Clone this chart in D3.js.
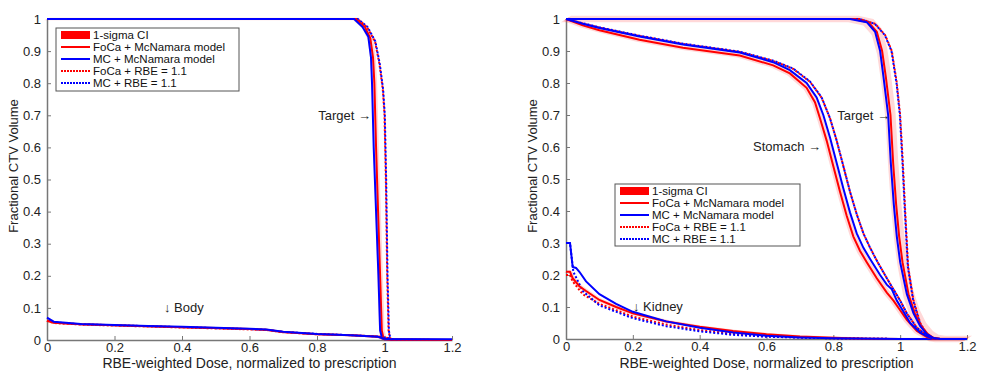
<!DOCTYPE html>
<html>
<head>
<meta charset="utf-8">
<script src="https://cdn.jsdelivr.net/npm/d3@7"></script>
<style>
  body { margin: 0; background: #fff; }
  svg text { font-family: "Liberation Sans", Arial, sans-serif; }
</style>
</head>
<body>
<div id="chart"></div>
<script>
// tick values and legend labels
const xTicks = [0, 0.2, 0.4, 0.6, 0.8, 1, 1.2];
const yTicks = [0, 0.1, 0.2, 0.3, 0.4, 0.5, 0.6, 0.7, 0.8, 0.9, 1];
const legendLabels = ['1-sigma CI', 'FoCa + McNamara model', 'MC + McNamara model', 'FoCa + RBE = 1.1', 'MC + RBE = 1.1'];

// left panel: target
const leftTargetFoca = [[0,1],[0.915,1],[0.942,0.975],[0.958,0.94],[0.966,0.88],[0.97,0.8],[0.975,0.6],[0.981,0.4],[0.987,0.2],[0.992,0.03],[0.997,0.005],[1.0,0.002],[1.2,0]];
const leftTargetMc = [[0,1],[0.91,1],[0.935,0.975],[0.952,0.945],[0.96,0.88],[0.963,0.8],[0.968,0.6],[0.975,0.4],[0.982,0.2],[0.987,0.03],[0.993,0.005],[1.0,0.002],[1.2,0]];
const leftTargetFocaRbe = [[0,1],[0.92,1],[0.948,0.975],[0.972,0.93],[0.985,0.86],[0.995,0.78],[1.0,0.7],[1.004,0.5],[1.008,0.2],[1.012,0.03],[1.016,0.005],[1.02,0],[1.2,0]];
const leftTargetMcRbe = [[0,1],[0.921,1],[0.95,0.975],[0.973,0.93],[0.986,0.86],[0.996,0.78],[1.001,0.7],[1.005,0.5],[1.009,0.2],[1.013,0.03],[1.017,0.005],[1.021,0],[1.2,0]];

// left panel: body
const leftBodyFoca = [[0,0.06],[0.02,0.054],[0.1,0.049],[0.2,0.046],[0.3,0.043],[0.4,0.04],[0.5,0.037],[0.6,0.034],[0.65,0.032],[0.7,0.025],[0.8,0.018],[0.9,0.015],[0.98,0.01],[1.0,0.004],[1.02,0.001],[1.2,0]];
const leftBodyMc = [[0,0.07],[0.02,0.057],[0.1,0.05],[0.2,0.047],[0.3,0.044],[0.4,0.041],[0.5,0.038],[0.6,0.035],[0.65,0.033],[0.7,0.026],[0.8,0.019],[0.9,0.015],[0.98,0.01],[1.0,0.004],[1.02,0.002],[1.2,0.002]];
const leftBodyFocaRbe = [[0,0.06],[0.02,0.053],[0.1,0.048],[0.2,0.045],[0.3,0.042],[0.4,0.039],[0.5,0.036],[0.6,0.033],[0.65,0.031],[0.7,0.024],[0.8,0.018],[0.9,0.015],[0.98,0.011],[1.01,0.006],[1.03,0.001],[1.2,0]];
const leftBodyMcRbe = [[0,0.065],[0.02,0.055],[0.1,0.049],[0.2,0.046],[0.3,0.043],[0.4,0.04],[0.5,0.037],[0.6,0.034],[0.65,0.032],[0.7,0.025],[0.8,0.019],[0.9,0.015],[0.98,0.011],[1.01,0.006],[1.03,0.001],[1.2,0]];

// right panel: target
const rightTargetFoca = [[0,1],[0.86,1],[0.905,0.99],[0.93,0.96],[0.946,0.9],[0.957,0.82],[0.971,0.7],[0.979,0.55],[0.988,0.42],[0.997,0.32],[1.007,0.24],[1.025,0.14],[1.044,0.08],[1.063,0.04],[1.083,0.015],[1.1,0.003],[1.12,0],[1.2,0]];
const rightTargetMc = [[0,1],[0.85,1],[0.9,0.99],[0.925,0.96],[0.94,0.9],[0.95,0.82],[0.964,0.7],[0.972,0.55],[0.981,0.42],[0.99,0.32],[1.0,0.24],[1.02,0.14],[1.04,0.08],[1.06,0.04],[1.08,0.015],[1.1,0.003],[1.12,0],[1.2,0]];
const rightTargetFocaRbe = [[0,1],[0.88,1],[0.925,0.985],[0.955,0.95],[0.975,0.9],[0.99,0.8],[1.0,0.7],[1.008,0.55],[1.015,0.4],[1.024,0.225],[1.04,0.12],[1.06,0.05],[1.08,0.015],[1.1,0.003],[1.12,0],[1.2,0]];
const rightTargetMcRbe = [[0,1],[0.879,1],[0.924,0.985],[0.954,0.95],[0.974,0.9],[0.989,0.8],[0.999,0.7],[1.007,0.55],[1.014,0.4],[1.023,0.225],[1.039,0.12],[1.059,0.05],[1.079,0.015],[1.1,0.003],[1.12,0],[1.2,0]];

// right panel: stomach
const rightStomachFoca = [[0,1],[0.05,0.98],[0.1,0.965],[0.22,0.935],[0.35,0.91],[0.52,0.886],[0.62,0.855],[0.67,0.83],[0.72,0.785],[0.745,0.74],[0.76,0.69],[0.78,0.62],[0.8,0.54],[0.82,0.46],[0.84,0.385],[0.86,0.32],[0.88,0.275],[0.9,0.24],[0.93,0.19],[0.96,0.145],[0.98,0.12],[1.0,0.09],[1.02,0.06],[1.05,0.025],[1.08,0.006],[1.1,0],[1.2,0]];
const rightStomachMc = [[0,1],[0.05,0.985],[0.1,0.972],[0.22,0.945],[0.35,0.92],[0.52,0.895],[0.62,0.865],[0.67,0.84],[0.72,0.8],[0.75,0.755],[0.77,0.7],[0.79,0.63],[0.81,0.55],[0.83,0.47],[0.85,0.395],[0.87,0.33],[0.89,0.285],[0.91,0.25],[0.94,0.2],[0.96,0.17],[0.975,0.155],[0.99,0.12],[1.01,0.085],[1.03,0.05],[1.06,0.02],[1.09,0.004],[1.11,0],[1.2,0]];
const rightStomachFocaRbe = [[0,1],[0.05,0.986],[0.1,0.973],[0.22,0.947],[0.35,0.922],[0.52,0.897],[0.62,0.869],[0.68,0.844],[0.73,0.804],[0.765,0.754],[0.79,0.69],[0.81,0.62],[0.83,0.54],[0.85,0.46],[0.87,0.39],[0.89,0.33],[0.91,0.285],[0.93,0.245],[0.96,0.19],[0.98,0.155],[1.0,0.12],[1.02,0.08],[1.05,0.035],[1.08,0.01],[1.1,0.002],[1.12,0],[1.2,0]];
const rightStomachMcRbe = [[0,1],[0.05,0.987],[0.1,0.974],[0.22,0.948],[0.35,0.923],[0.52,0.898],[0.62,0.87],[0.68,0.845],[0.73,0.805],[0.765,0.755],[0.79,0.69],[0.81,0.62],[0.83,0.54],[0.85,0.46],[0.87,0.39],[0.89,0.33],[0.91,0.285],[0.93,0.245],[0.96,0.19],[0.98,0.155],[1.0,0.12],[1.02,0.08],[1.05,0.035],[1.08,0.01],[1.1,0.002],[1.12,0],[1.2,0]];

// right panel: kidney
const rightKidneyFoca = [[0,0.21],[0.012,0.21],[0.02,0.19],[0.04,0.165],[0.06,0.15],[0.1,0.122],[0.15,0.1],[0.2,0.08],[0.3,0.055],[0.4,0.038],[0.5,0.025],[0.6,0.015],[0.7,0.008],[0.8,0.004],[0.9,0.001],[1.0,0],[1.2,0]];
const rightKidneyMc = [[0,0.3],[0.012,0.3],[0.02,0.225],[0.03,0.222],[0.04,0.21],[0.06,0.18],[0.1,0.14],[0.15,0.11],[0.2,0.085],[0.3,0.055],[0.4,0.035],[0.5,0.02],[0.6,0.01],[0.7,0.005],[0.8,0.002],[1.0,0],[1.2,0]];
const rightKidneyFocaRbe = [[0,0.2],[0.012,0.2],[0.02,0.18],[0.05,0.14],[0.1,0.11],[0.2,0.07],[0.3,0.045],[0.4,0.028],[0.5,0.016],[0.6,0.008],[0.8,0.002],[1.0,0],[1.2,0]];
const rightKidneyMcRbe = [[0,0.3],[0.012,0.3],[0.022,0.21],[0.05,0.15],[0.1,0.105],[0.2,0.065],[0.3,0.04],[0.4,0.024],[0.5,0.013],[0.6,0.007],[0.8,0.002],[1.0,0],[1.2,0]];

// 1-sigma CI half widths (dose, volume) for each FoCa + McNamara curve
const ciLeftTarget = [0.008, 0.004];
const ciLeftBody = [0.004, 0.003];
const ciRightTarget = [0.015, 0.01];
const ciRightStomach = [0.008, 0.006];
const ciRightKidney = [0.006, 0.004];

const width = 982, height = 373;
const svg = d3.select('#chart').append('svg')
    .attr('width', width)
    .attr('height', height);

const red = '#ff0000', blue = '#0000ff', pink = 'rgba(255, 60, 60, 0.2)';

const panels = [
    {
        left: 47, right: 452, top: 19, bottom: 340,
        structures: [
            {foca: leftTargetFoca, mc: leftTargetMc, focaRbe: leftTargetFocaRbe, mcRbe: leftTargetMcRbe, ci: ciLeftTarget},
            {foca: leftBodyFoca, mc: leftBodyMc, focaRbe: leftBodyFocaRbe, mcRbe: leftBodyMcRbe, ci: ciLeftBody}
        ],
        notes: [
            {text: 'Target \u2192', x: 371, y: 120, anchor: 'end'},
            {text: '\u2193 Body', x: 164, y: 312, anchor: 'start'}
        ],
        legend: {x: 56, y: 28, w: 183, h: 63},
        ylabelX: 18
    },
    {
        left: 566, right: 967, top: 19, bottom: 339,
        structures: [
            {foca: rightKidneyFoca, mc: rightKidneyMc, focaRbe: rightKidneyFocaRbe, mcRbe: rightKidneyMcRbe, ci: ciRightKidney},
            {foca: rightStomachFoca, mc: rightStomachMc, focaRbe: rightStomachFocaRbe, mcRbe: rightStomachMcRbe, ci: ciRightStomach},
            {foca: rightTargetFoca, mc: rightTargetMc, focaRbe: rightTargetFocaRbe, mcRbe: rightTargetMcRbe, ci: ciRightTarget}
        ],
        notes: [
            {text: 'Target \u2192', x: 890, y: 120, anchor: 'end'},
            {text: 'Stomach \u2192', x: 821, y: 151, anchor: 'end'},
            {text: '\u2193 Kidney', x: 633, y: 311, anchor: 'start'}
        ],
        legend: {x: 615, y: 184, w: 185, h: 62},
        ylabelX: 537
    }
];

const fmt = d => d === 0 ? '0' : String(+d.toFixed(1));

panels.forEach(p => {
    const x = d3.scaleLinear().domain([0, 1.2]).range([p.left, p.right]);
    const y = d3.scaleLinear().domain([0, 1]).range([p.bottom, p.top]);
    const g = svg.append('g');

    // axes with inward ticks, MATLAB style
    const xAxis = g.append('g')
        .attr('transform', `translate(0,${p.bottom})`)
        .call(d3.axisBottom(x).tickValues(xTicks).tickFormat(fmt).tickSizeInner(-4).tickSizeOuter(0).tickPadding(3));
    const yAxis = g.append('g')
        .attr('transform', `translate(${p.left},0)`)
        .call(d3.axisLeft(y).tickValues(yTicks).tickFormat(fmt).tickSizeInner(-4).tickSizeOuter(0).tickPadding(6));
    [xAxis, yAxis].forEach(a => {
        a.select('.domain').attr('stroke', '#777').attr('stroke-width', 1.5);
        a.selectAll('.tick line').attr('stroke', '#777');
        a.selectAll('.tick text').attr('fill', '#222').style('font-size', '13px');
    });

    g.append('text')
        .attr('transform', `translate(${p.ylabelX},166) rotate(-90)`)
        .attr('text-anchor', 'middle')
        .attr('fill', '#222')
        .style('font-size', '13px')
        .text('Fractional CTV Volume');
    g.append('text')
        .attr('x', (p.left + p.right) / 2)
        .attr('y', 368)
        .attr('text-anchor', 'middle')
        .attr('fill', '#222')
        .style('font-size', '14px')
        .text('RBE-weighted Dose, normalized to prescription');

    const line = d3.line().x(d => x(d[0])).y(d => y(d[1]));

    p.structures.forEach(s => {
        const band = d3.area()
            .x0(d => x(d[0] - s.ci[0])).y0(d => y(d[1] - s.ci[1]))
            .x1(d => x(d[0] + s.ci[0])).y1(d => y(d[1] + s.ci[1]));
        g.append('path').attr('d', band(s.foca)).attr('fill', pink);
    });
    p.structures.forEach(s => {
        g.append('path').attr('d', line(s.focaRbe)).attr('fill', 'none')
            .attr('stroke', red).attr('stroke-width', 2).attr('stroke-dasharray', '2,2');
        g.append('path').attr('d', line(s.mcRbe)).attr('fill', 'none')
            .attr('stroke', blue).attr('stroke-width', 2).attr('stroke-dasharray', '2,2').attr('stroke-dashoffset', 2);
        g.append('path').attr('d', line(s.foca)).attr('fill', 'none')
            .attr('stroke', red).attr('stroke-width', 2);
        g.append('path').attr('d', line(s.mc)).attr('fill', 'none')
            .attr('stroke', blue).attr('stroke-width', 2);
    });

    p.notes.forEach(n => {
        g.append('text')
            .attr('x', n.x).attr('y', n.y)
            .attr('text-anchor', n.anchor)
            .attr('fill', '#222')
            .style('font-size', '13px')
            .text(n.text);
    });

    // legend
    const L = p.legend;
    const lg = g.append('g').attr('transform', `translate(${L.x},${L.y})`);
    lg.append('rect').attr('width', L.w).attr('height', L.h)
        .attr('fill', '#fff').attr('stroke', '#555').attr('stroke-width', 1);
    legendLabels.forEach((lab, i) => {
        const yy = 7 + i * 12;
        if (i === 0) {
            lg.append('rect').attr('x', 5).attr('y', yy - 4).attr('width', 29).attr('height', 8).attr('fill', red);
        } else {
            lg.append('line').attr('x1', 5).attr('x2', 34).attr('y1', yy).attr('y2', yy)
                .attr('stroke', i % 2 === 1 ? red : blue).attr('stroke-width', 2)
                .attr('stroke-dasharray', i > 2 ? '2,1' : null);
        }
        lg.append('text').attr('x', 37).attr('y', yy + 4)
            .attr('fill', '#111')
            .style('font-size', '11.5px')
            .text(lab);
    });
});
</script>
</body>
</html>
